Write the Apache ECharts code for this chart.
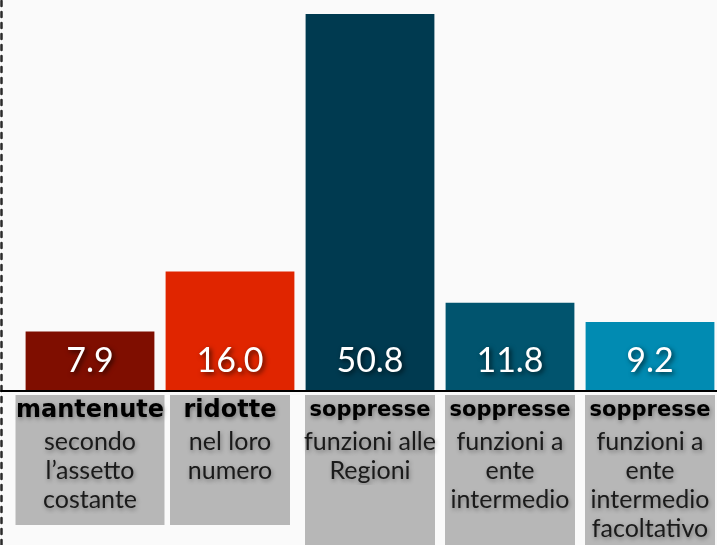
<!DOCTYPE html>
<html>
<head>
<meta charset="utf-8">
<script src="https://cdn.jsdelivr.net/npm/echarts@6/dist/echarts.min.js"></script>
<style>
html,body{margin:0;padding:0;background:#fafafa;}
#chart{width:717px;height:545px;}
</style>
</head>
<body>
<div id="chart"></div>
<script>
// ---- data ----
const categories = ['mantenute', 'ridotte', 'soppresse (Regioni)', 'soppresse (ente intermedio)', 'soppresse (facoltativo)'];
const values = [7.9, 16.0, 50.8, 11.8, 9.2];
const boldLines = ['mantenute', 'ridotte', 'soppresse', 'soppresse', 'soppresse'];
const detailLines = [
  ['secondo', 'l’assetto', 'costante'],
  ['nel loro', 'numero'],
  ['funzioni alle', 'Regioni'],
  ['funzioni a', 'ente', 'intermedio'],
  ['funzioni a', 'ente', 'intermedio', 'facoltativo']
];

// ---- styles ----
const barColors = ['#7f0e00', '#e02500', '#003a50', '#01546e', '#018bb2'];
const boxWidths = [149, 120, 130, 130, 130];
const boldSizes = [24, 24, 21, 21, 21];
const padHeights = [11, 40, 80, 80, 80];
const LH = 29;
const boxColor = '#b7b7b7';

const rich = {};
for (let i = 0; i < categories.length; i++) {
  const common = {
    width: boxWidths[i], height: LH, lineHeight: LH, align: 'center',
    backgroundColor: boxColor,
    textShadowColor: 'rgba(0,0,0,0.35)', textShadowBlur: 4, textShadowOffsetX: 1, textShadowOffsetY: 2
  };
  rich['b' + i] = Object.assign({}, common, {
    fontFamily: 'DejaVu Sans', fontWeight: 'bold', fontSize: boldSizes[i], color: '#000000',
    height: 32, lineHeight: 32
  });
  rich['r' + i] = Object.assign({}, common, {
    fontFamily: 'Lato', fontSize: 25, color: '#1a1a1a'
  });
  rich['p' + i] = Object.assign({}, common, {
    height: padHeights[i], lineHeight: padHeights[i], fontSize: 8
  });
}

const chart = echarts.init(document.getElementById('chart'), null, {renderer: 'canvas'});
chart.setOption({
  backgroundColor: '#fafafa',
  animation: false,
  grid: [
    {left: 20, top: 5, width: 700, height: 385, outerBoundsMode: 'none', containLabel: false},
    {left: 1, right: 0, top: 0, bottom: 0, outerBoundsMode: 'none', containLabel: false}
  ],
  xAxis: [
    {
      type: 'category', gridIndex: 0, data: categories,
      axisLine: {show: false}, axisTick: {show: false},
      axisLabel: {
        interval: 0, margin: 5,
        formatter: function (v, i) {
          let s = '{b' + i + '|' + boldLines[i] + '}';
          detailLines[i].forEach(function (l) { s += '\n{r' + i + '|' + l + '}'; });
          s += '\n{p' + i + '| }';
          return s;
        },
        rich: rich
      }
    },
    {
      type: 'value', gridIndex: 1, position: 'bottom', offset: -154,
      axisLine: {show: true, lineStyle: {color: '#000', width: 2}},
      axisTick: {show: false}, axisLabel: {show: false}, splitLine: {show: false}
    }
  ],
  yAxis: [
    {type: 'value', gridIndex: 0, min: 0, max: 52, show: false},
    {
      type: 'value', gridIndex: 1,
      axisLine: {show: true, lineStyle: {color: '#2a2a2a', width: 2.5, type: [5, 6]}},
      axisTick: {show: false}, axisLabel: {show: false}, splitLine: {show: false}
    }
  ],
  series: [{
    type: 'bar',
    xAxisIndex: 0, yAxisIndex: 0,
    barWidth: '92%',
    data: values.map(function (v, i) { return {value: v, itemStyle: {color: barColors[i]}}; }),
    label: {
      show: true, position: 'insideBottom', distance: 12,
      formatter: function (p) { return p.value.toFixed(1); },
      fontFamily: 'Lato', fontSize: 34, color: '#ffffff',
      textShadowColor: 'rgba(0,0,0,0.7)', textShadowBlur: 5, textShadowOffsetX: 2, textShadowOffsetY: 2
    }
  }]
});
</script>
</body>
</html>
